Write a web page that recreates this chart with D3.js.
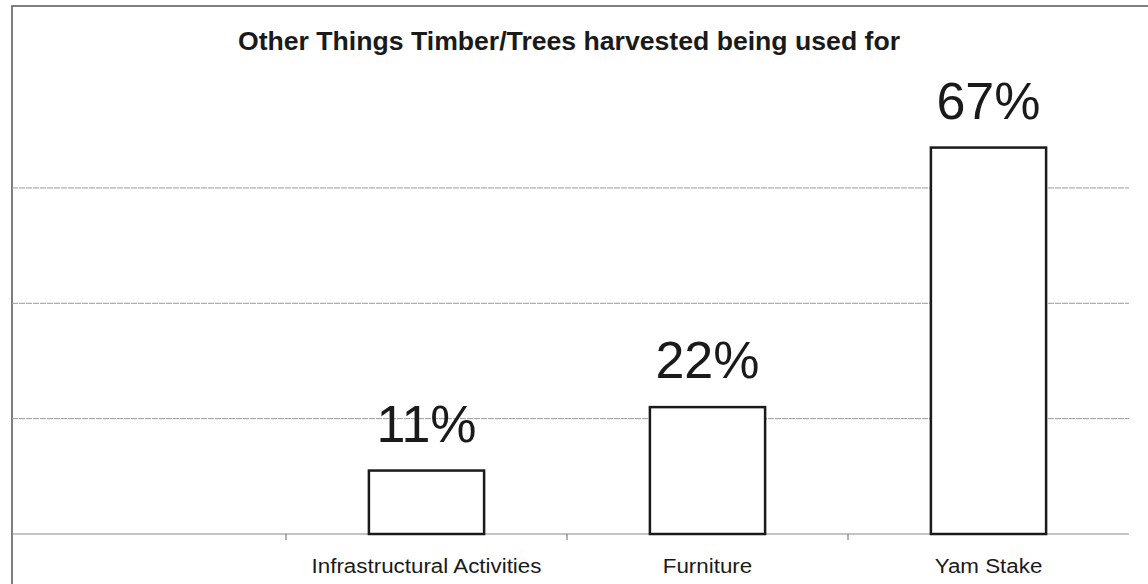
<!DOCTYPE html>
<html>
<head>
<meta charset="utf-8">
<script src="https://cdn.jsdelivr.net/npm/d3@7"></script>
<style>
  body { margin: 0; background: #fff; }
  text { font-family: "Liberation Sans", Arial, sans-serif; fill: #1a1a1a; }
</style>
</head>
<body>
<div id="chart"></div>
<script>
// chart data
const categories = ["Infrastructural Activities", "Furniture", "Yam Stake"];
const values = [11, 22, 67];
const gridTicks = [20, 40, 60];

const width = 1148, height = 584;

const svg = d3.select("#chart")
    .append("svg")
    .attr("width", width)
    .attr("height", height);

// outer frame (right and bottom edges are cut off in the scan)
svg.append("rect")
    .attr("x", 12).attr("y", 6)
    .attr("width", 1200).attr("height", 700)
    .attr("fill", "none")
    .attr("stroke", "#555")
    .attr("stroke-width", 1.5);

// scales: first empty band left of the first category
const x = d3.scaleBand()
    .domain(categories)
    .range([286, 1129])
    .padding(0);

const y = d3.scaleLinear()
    .domain([0, 80])
    .range([534, 72.6]);

// gridlines
svg.append("g")
    .selectAll("line")
    .data(gridTicks)
    .join("line")
    .attr("x1", 12).attr("x2", 1129)
    .attr("y1", d => y(d)).attr("y2", d => y(d))
    .attr("stroke", "#9a9a9a")
    .attr("stroke-width", 1)
    .attr("stroke-dasharray", "6,1");

// baseline
svg.append("line")
    .attr("x1", 12).attr("x2", 1129)
    .attr("y1", y(0)).attr("y2", y(0))
    .attr("stroke", "#888")
    .attr("stroke-width", 1.2);

// tick marks at band edges
svg.append("g")
    .selectAll("line")
    .data(categories)
    .join("line")
    .attr("x1", d => x(d)).attr("x2", d => x(d))
    .attr("y1", y(0)).attr("y2", y(0) + 6)
    .attr("stroke", "#666")
    .attr("stroke-width", 1);

const barW = x.bandwidth() * 0.41;

// bars
svg.append("g")
    .selectAll("rect")
    .data(values)
    .join("rect")
    .attr("x", (d, i) => x(categories[i]) + (x.bandwidth() - barW) / 2)
    .attr("y", d => y(d))
    .attr("width", barW)
    .attr("height", d => y(0) - y(d))
    .attr("fill", "#fff")
    .attr("stroke", "#1a1a1a")
    .attr("stroke-width", 2.5);

// value labels
svg.append("g")
    .selectAll("text")
    .data(values)
    .join("text")
    .attr("x", (d, i) => x(categories[i]) + x.bandwidth() / 2)
    .attr("y", d => y(d) - 29)
    .attr("text-anchor", "middle")
    .style("font-size", "52px")
    .text(d => d + "%");

// category labels (scan is slightly stretched horizontally)
svg.append("g")
    .selectAll("text")
    .data(categories)
    .join("text")
    .attr("transform", d => "translate(" + (x(d) + x.bandwidth() / 2) + ",573) scale(1.065,1)")
    .attr("text-anchor", "middle")
    .style("font-size", "21px")
    .text(d => d);

// title
svg.append("text")
    .attr("transform", "translate(569,50) scale(1.065,1)")
    .attr("text-anchor", "middle")
    .style("font-size", "25px")
    .style("font-weight", "bold")
    .text("Other Things Timber/Trees harvested being used for");
</script>
</body>
</html>
